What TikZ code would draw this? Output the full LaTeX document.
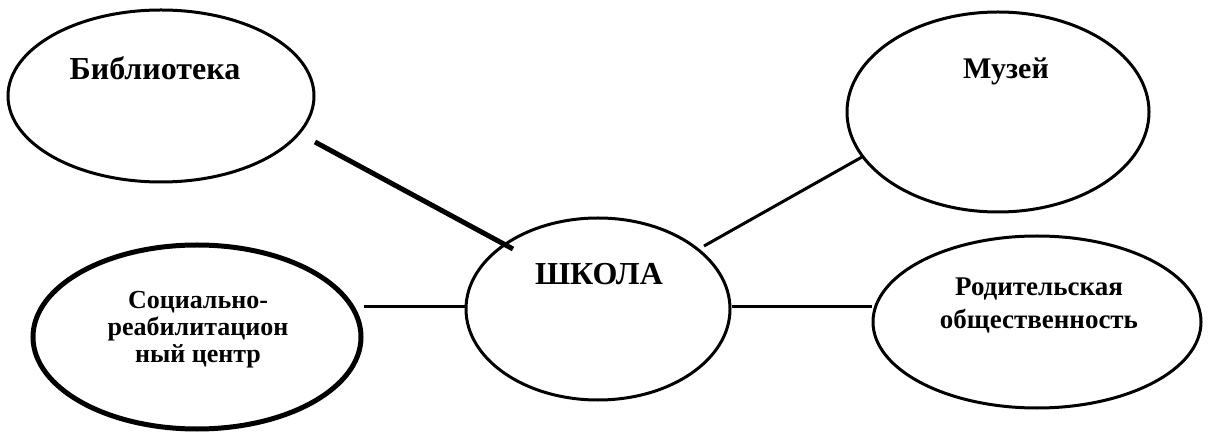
\documentclass[tikz,border=0pt]{standalone}
\usepackage{fontspec}
\setmainfont{Liberation Serif}
\usetikzlibrary{shapes.geometric}
\begin{document}
\begin{tikzpicture}[x=0.5pt,y=-0.5pt,
    oval/.style={draw,ellipse,inner sep=0pt,line width=1.5pt},
    caption/.style={align=center,inner sep=0pt},
    link/.style={line width=1.5pt}]
  \useasboundingbox (0,0) rectangle (1209,432);
  % ellipses
  \node[oval,minimum width=153pt,minimum height=86pt] (bib) at (161,96) {};
  \node[oval,line width=2.5pt,minimum width=164pt,minimum height=92pt] (social) at (197,337) {};
  \node[oval,minimum width=132pt,minimum height=91pt] (school) at (598,309) {};
  \node[oval,minimum width=151pt,minimum height=100pt] (museum) at (998,112) {};
  \node[oval,minimum width=164pt,minimum height=86pt] (parents) at (1037,322) {};
  % texts
  \node[caption,font=\fontsize{16}{18}\selectfont\bfseries] (bibtext) at (155,68) {Библиотека};
  \node[caption,font=\fontsize{15}{18}\selectfont\bfseries] (museumtext) at (1006,71) {Музей};
  \node[caption,font=\fontsize{16}{18}\selectfont\bfseries] (schooltext) at (599,274) {ШКОЛА};
  \node[caption,font=\fontsize{13}{13.5}\selectfont\bfseries] (socialtext) at (198,330)
    {Социально-\\реабилитацион\\ный центр};
  \node[caption,font=\fontsize{13.5}{16.5}\selectfont\bfseries] (parentstext) at (1039,306)
    {Родительская\\общественность};
  % connectors
  \coordinate (bibend) at (315,142);
  \coordinate (schoolnw) at (513,249);
  \coordinate (schoolne) at (704,246);
  \coordinate (museumsw) at (862,157);
  \draw[link,line width=2.5pt] (bibend) -- (schoolnw);
  \draw[link] (schoolne) -- (museumsw);
  \draw[link] (social.east |- 0,307) -- (school.west |- 0,307);
  \draw[link] (school.east |- 0,307) -- (parents.west |- 0,307);
\end{tikzpicture}
\end{document}
